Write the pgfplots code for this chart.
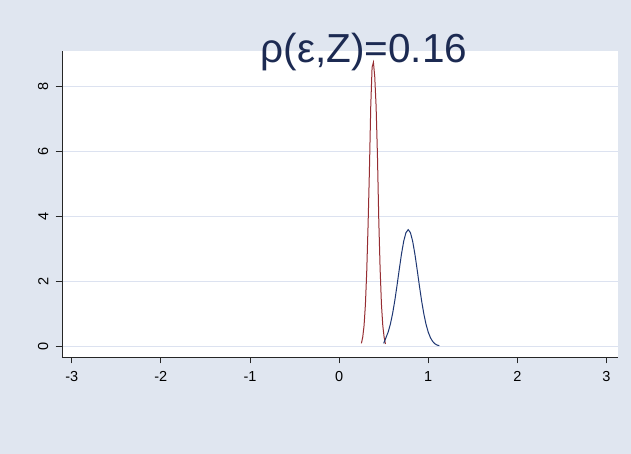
\documentclass[border=0pt]{standalone}
\usepackage{fontspec}
\setmainfont{Liberation Sans}
\usepackage{pgfplots}
\pgfplotsset{compat=1.18}
\definecolor{bgcol}{RGB}{224,230,240}
\definecolor{gridcol}{RGB}{220,226,240}
\definecolor{titlecol}{RGB}{28,42,82}
\definecolor{redc}{RGB}{150,45,50}
\definecolor{bluec}{RGB}{30,55,115}
\begin{document}
\begin{tikzpicture}
\fill[bgcol] (0,0) rectangle (631bp,454bp);
\begin{axis}[
  at={(62bp,97bp)}, anchor=south west,
  scale only axis, width=556bp, height=306bp,
  xmin=-3.109, xmax=3.129, ymin=-0.32, ymax=9.1,
  axis x line*=bottom, axis y line*=left,
  axis line style={black!85, line width=0.9bp},
  axis background/.style={fill=white},
  xtick={-3,-2,-1,0,1,2,3}, ytick={0,2,4,6,8},
  tick align=outside, major tick length=6.5bp,
  tick style={black!85, line width=0.9bp},
  ymajorgrids, grid style={gridcol, line width=0.9bp},
  /pgf/number format/assume math mode=true,
  tick label style={font=\fontsize{14.5bp}{16bp}\selectfont, inner sep=0pt},
  xticklabel style={anchor=north, yshift=-8bp},
  yticklabel style={rotate=90, anchor=south, yshift=7bp},
  clip=false,
]
\addplot[redc, line width=1bp] coordinates {
(0.25,0.10) (0.265,0.29) (0.28,0.65) (0.295,1.29) (0.31,2.32) (0.325,3.74)
(0.34,5.42) (0.355,7.4) (0.37,8.6) (0.385,8.75) (0.40,8.3) (0.415,7.4)
(0.43,5.9) (0.445,3.9) (0.46,2.4) (0.475,1.3) (0.49,0.65) (0.505,0.29) (0.52,0.08)
};
\addplot[bluec, line width=1bp] coordinates {
(0.500,0.10) (0.525,0.272) (0.550,0.444) (0.575,0.689) (0.600,1.015) (0.625,1.42)
(0.650,1.886) (0.675,2.38) (0.700,2.853) (0.725,3.247) (0.750,3.508) (0.775,3.60)
(0.800,3.508) (0.825,3.247) (0.850,2.853) (0.875,2.38) (0.900,1.886) (0.925,1.42)
(0.950,1.015) (0.975,0.689) (1.000,0.444) (1.025,0.272) (1.050,0.158) (1.075,0.087)
(1.100,0.046) (1.125,0.03)
};
\end{axis}
\node[font=\fontsize{40.5bp}{45bp}\selectfont, text=titlecol, anchor=base, inner sep=0pt]
  at (364bp,391.3bp) {ρ(ε,Z)=0.16};
\end{tikzpicture}
\end{document}
